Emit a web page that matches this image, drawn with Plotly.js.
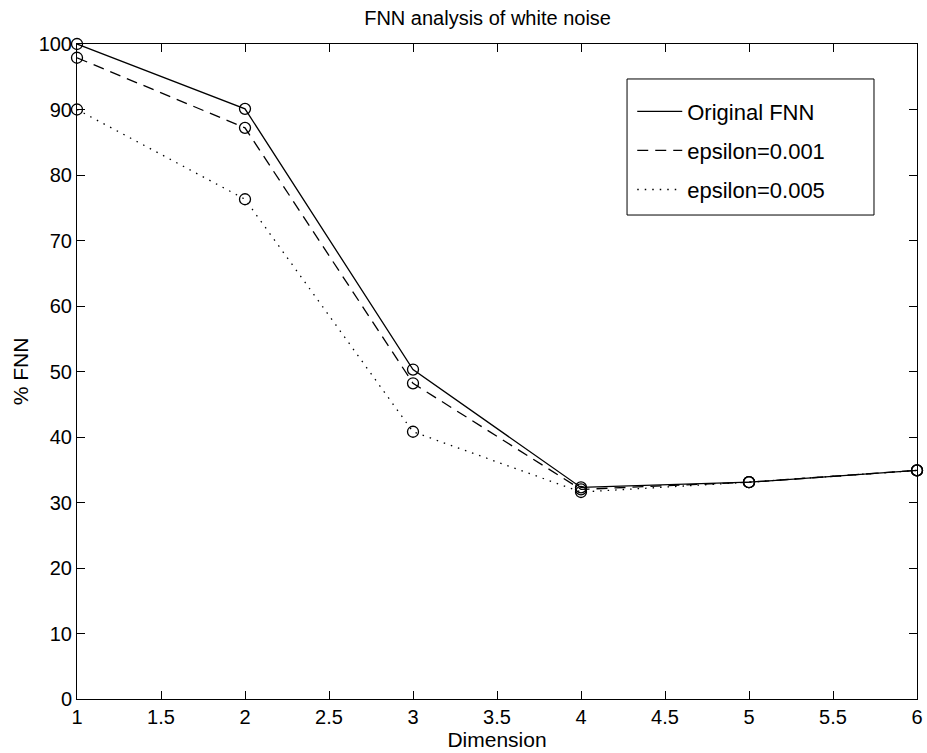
<!DOCTYPE html>
<html>
<head>
<meta charset="utf-8">
<script src="https://cdn.plot.ly/plotly-3.0.1.min.js"></script>
<style>html,body{margin:0;padding:0;background:#fff;}#chart{width:927px;height:753px;}</style>
</head>
<body>
<div id="chart"></div>
<script>
const dimension = [1, 2, 3, 4, 5, 6];
const originalFNN = [100, 90.1, 50.3, 32.3, 33.1, 34.9];
const eps001 = [97.9, 87.2, 48.2, 32.0, 33.1, 34.9];
const eps005 = [90.0, 76.3, 40.8, 31.6, 33.1, 34.9];
const seriesNames = ['Original FNN', 'epsilon=0.001', 'epsilon=0.005'];
const xTicks = [1, 1.5, 2, 2.5, 3, 3.5, 4, 4.5, 5, 5.5, 6];
const yTicks = [0, 10, 20, 30, 40, 50, 60, 70, 80, 90, 100];

const series = [originalFNN, eps001, eps005];
const dashes = ['solid', '11px,7px', '1.5px,6px'];
const traces = [];
series.forEach((ys, i) => {
  traces.push({
    x: dimension, y: ys, name: seriesNames[i], type: 'scatter', mode: 'lines',
    legendgroup: 'g' + i,
    line: {color: '#000', width: 1.3, dash: dashes[i]}, showlegend: true
  });
});
series.forEach((ys, i) => {
  traces.push({
    x: dimension, y: ys, type: 'scatter', mode: 'markers', showlegend: false,
    hoverinfo: 'skip',
    marker: {symbol: 'circle-open', size: 11, color: '#000', line: {color: '#000', width: 1.3}},
    cliponaxis: false
  });
});

const fam = 'Liberation Sans, Arial, sans-serif';
const font = {family: fam, color: '#000', size: 20};
const axisCommon = {
  showgrid: false, zeroline: false, showline: true, linecolor: '#000', linewidth: 1,
  mirror: 'ticks', ticks: 'inside', ticklen: 8, tickcolor: '#000', tickwidth: 1,
  tickfont: font
};
const layout = {
  width: 927, height: 753,
  margin: {l: 77, r: 10, t: 44, b: 54},
  paper_bgcolor: '#fff', plot_bgcolor: '#fff',
  font: font,
  title: {text: 'FNN analysis of white noise', font: {family: fam, size: 20, color: '#000'},
    x: 0.526, xanchor: 'center', y: 0.976, yanchor: 'middle'},
  xaxis: Object.assign({}, axisCommon, {range: [1, 6], tickvals: xTicks, ticktext: xTicks.map(String),
    title: {text: 'Dimension', font: {family: fam, size: 21, color: '#000'}, standoff: 2}}),
  yaxis: Object.assign({}, axisCommon, {range: [0, 100], tickvals: yTicks, ticktext: yTicks.map(String),
    title: {text: '% FNN', font: {family: fam, size: 21, color: '#000'}, standoff: 4}}),
  legend: {x: 0.661, y: 0.929, xanchor: 'left', yanchor: 'top', bgcolor: 'rgba(0,0,0,0)', borderwidth: 0,
    font: {family: fam, size: 22, color: '#000'}, itemwidth: 45, tracegroupgap: 7.5, traceorder: 'grouped'},
  shapes: [{type: 'rect', xref: 'paper', yref: 'paper', x0: 0.6548, x1: 0.9488, y0: 0.7389, y1: 0.9466,
    line: {color: '#000', width: 1}, fillcolor: '#fff', layer: 'below'}],
  showlegend: true
};
Plotly.newPlot('chart', traces, layout, {displayModeBar: false, staticPlot: true});
</script>
</body>
</html>
